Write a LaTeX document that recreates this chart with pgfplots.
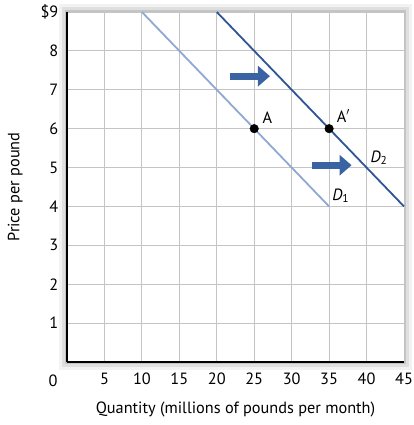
\documentclass[border=0pt]{standalone}
\usepackage{pgfplots}
\pgfplotsset{compat=1.18}
\usepackage{fontspec}
\setmainfont{PT Sans}
\usetikzlibrary{arrows.meta,shadows}
\definecolor{gridgray}{HTML}{C4C4C4}
\definecolor{dlight}{HTML}{8FA9D2}
\definecolor{ddark}{HTML}{2E5594}
\definecolor{arrowblue}{HTML}{3A63A3}
\begin{document}
\fontsize{16.3}{19}\selectfont
\begin{tikzpicture}[font=\fontsize{16.3}{19}\selectfont]
\begin{axis}[
  name=ax,
  scale only axis, width=337pt, height=350pt,
  xmin=0, xmax=45, ymin=0, ymax=9,
  xtick={5,10,...,45}, ytick={1,...,9},
  yticklabels={1,2,3,4,5,6,7,8,\$9},
  /pgf/number format/assume math mode=true,
  every tick label/.append style={font=\fontsize{16.3}{19}\selectfont},
  every axis label/.append style={font=\fontsize{16.3}{19}\selectfont},
  major tick length=0pt,
  grid=major,
  major grid style={gridgray, line width=0.9pt},
  axis lines*=left,
  axis line style={black, line width=1.4pt, -},
  xticklabel style={yshift=-5pt},
  yticklabel style={xshift=-3pt},
  xlabel={Quantity (millions of pounds per month)},
  ylabel={Price per pound},
  xlabel style={yshift=-6pt},
  ylabel style={yshift=7pt},
  axis background/.style={fill=white,
    general shadow={fill=black, opacity=0.05, shadow scale=1.045},
    general shadow={fill=black, opacity=0.08, shadow scale=1.028},
    general shadow={fill=black, opacity=0.12, shadow scale=1.012}},
  clip=false,
]
\addplot[dlight, line width=1.8pt] coordinates {(10,9) (35,4)};
\addplot[ddark, line width=1.8pt] coordinates {(20,9) (45,4)};
\addplot[only marks, mark=*, mark size=4.3pt, black] coordinates {(25,6) (35,6)};
\draw[arrowblue, line width=7pt, -{Triangle[length=12pt, width=20pt]}] (axis cs:21.8,7.35) -- (axis cs:27.1,7.35);
\draw[arrowblue, line width=7pt, -{Triangle[length=12pt, width=20pt]}] (axis cs:32.7,5.06) -- (axis cs:38.0,5.06);
\node[anchor=base west, inner sep=0pt] at (axis cs:26.1,6.14) {A};
\node[anchor=base west, inner sep=0pt] at (axis cs:36.0,6.17) {A$'$};
\node[anchor=base west, inner sep=0pt] at (axis cs:40.5,5.14) {\textit{D}\textsubscript{2}};
\node[anchor=base west, inner sep=0pt] at (axis cs:35.4,4.16) {\textit{D}\textsubscript{1}};
\node[anchor=center] at ([xshift=-14pt, yshift=-19pt]rel axis cs:0,0) {0};
\end{axis}
\pgfresetboundingbox
\path ([xshift=-67pt, yshift=-63pt]ax.south west) rectangle ([xshift=10pt, yshift=12pt]ax.north east);
\end{tikzpicture}
\end{document}
